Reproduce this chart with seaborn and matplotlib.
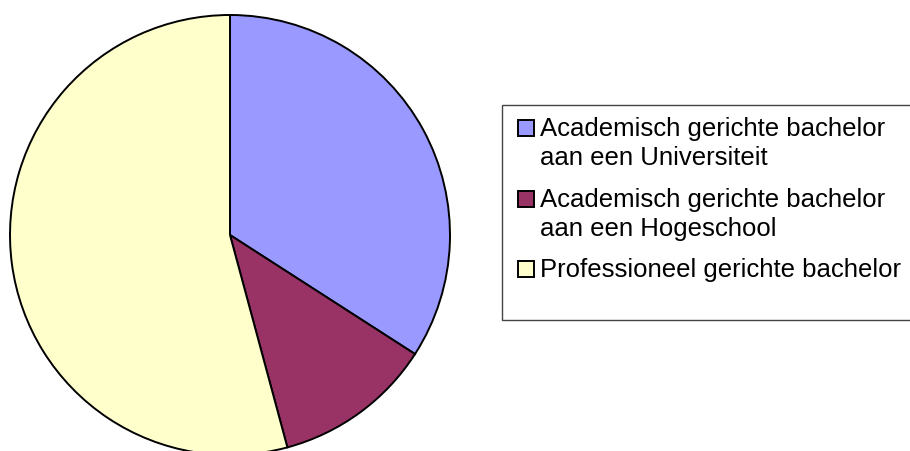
"""Pie chart: verdeling bachelortypes"""
import matplotlib
matplotlib.use("Agg")
import matplotlib.pyplot as plt
from matplotlib.patches import Rectangle
import seaborn as sns

# data
categories = [
    "Academisch gerichte bachelor\naan een Universiteit",
    "Academisch gerichte bachelor\naan een Hogeschool",
    "Professioneel gerichte bachelor",
]
shares = [34.1, 11.7, 54.2]
colors = ["#9999FF", "#993366", "#FFFFCC"]

sns.set_theme(style="white")
plt.rcParams["font.family"] = ["Liberation Sans", "DejaVu Sans"]

W, H = 910, 451
fig = plt.figure(figsize=(W / 100, H / 100), dpi=100)
ax = fig.add_axes([0, 0, 1, 1])

# pie in pixel units: centre (230, 235 from top), radius 220
wedges, _ = ax.pie(
    shares,
    colors=sns.color_palette(colors),
    startangle=90,
    counterclock=False,
    center=(230, H - 235),
    radius=220,
    frame=True,
    wedgeprops=dict(edgecolor="black", linewidth=1.4),
)
ax.set_xlim(0, W)
ax.set_ylim(0, H)
ax.set_aspect("equal")
ax.axis("off")

# legend box (drawn by hand so the swatch sits on the first line)
ax.add_patch(Rectangle((502, H - 320), 420, 215, facecolor="white",
                       edgecolor="#444444", linewidth=1, clip_on=False))
baselines = [136, 207, 277]
for label, col, base in zip(categories, colors, baselines):
    ax.add_patch(Rectangle((517.5, H - base), 16, 16, facecolor=col,
                           edgecolor="black", linewidth=1.4))
    for i, line in enumerate(label.split("\n")):
        ax.text(540, H - base - 29 * i, line, fontsize=18.5,
                color="black", va="baseline", ha="left")

fig.savefig("out.png", dpi=100)
